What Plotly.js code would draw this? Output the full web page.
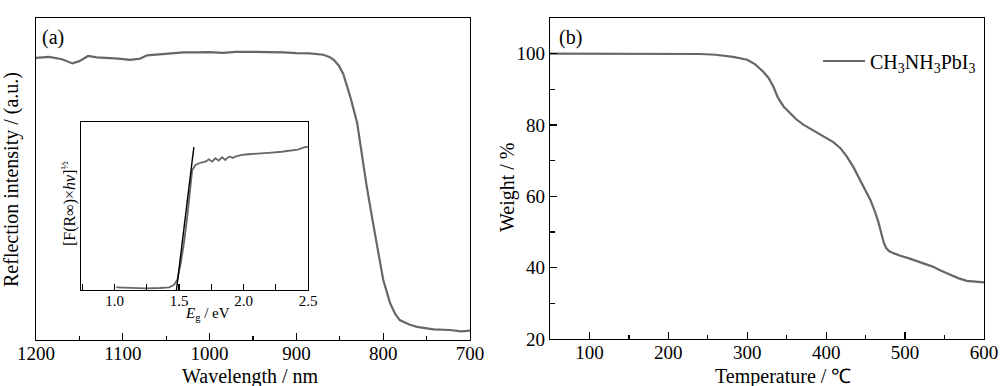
<!DOCTYPE html>
<html>
<head>
<meta charset="utf-8">
<script src="https://cdn.plot.ly/plotly-3.0.1.min.js"></script>
<style>html,body{margin:0;padding:0;background:#fff}#chart{width:1000px;height:386px}</style>
</head>
<body>
<div id="chart"></div>
<script>
// (a) diffuse reflection spectrum
const reflWavelength = [1200,1185,1170,1158,1150,1140,1130,1118,1105,1092,1080,1072,1060,1045,1030,1015,1000,985,970,957,940,925,915,900,885,869,862,857,851,846,838,830,825,819,813,807,800,792,786,781,770,761,742,723,710,700];
const reflIntensity = [87.6,87.9,87.2,85.9,86.6,88.2,87.8,87.7,87.4,87.0,87.4,88.4,88.7,89.0,89.3,89.3,89.4,89.2,89.5,89.5,89.4,89.5,89.3,89.1,89.0,88.6,87.9,87.0,85.2,82.6,75.6,67.4,58.0,47.7,38.3,29.0,18.7,11.4,8.0,6.2,4.8,4.1,3.3,3.1,2.7,2.9];

// inset: Tauc-type plot
const insetEnergy = [1.013,1.10,1.244,1.35,1.423,1.46,1.487,1.513,1.538,1.564,1.59,1.602,1.628,1.66,1.705,1.731,1.756,1.782,1.808,1.833,1.859,1.878,1.897,1.916,1.936,1.96,1.987,2.038,2.10,2.16,2.22,2.295,2.36,2.42,2.475,2.5];
const insetValue = [1.6,1.4,1.0,1.2,1.6,3.0,6.0,15.9,27.8,43.7,61.5,71.4,74.4,75.6,76.4,77.8,76.4,78.4,77.0,79.0,77.4,78.9,79.4,78.6,79.4,80.0,80.4,80.8,81.0,81.6,81.8,82.3,82.8,83.6,85.0,85.2];
const fitEnergy = [1.48, 1.615];
const fitValue = [0, 85];
const insetTicks = [1.0, 1.5, 2.0, 2.5];
const insetTickText = ['1.0','1.5','2.0','2.5'];

// (b) TGA curve
const tgaTemp = [50,100,150,200,240,260,282,300,310,320,327,333,339,346,354,362,371,380,392,400,409,418,426,434,442,450,456,462,466,470,473,476,480,486,493,505,518,527,535,545,557,568,578,590,600];
const tgaWeight = [100,100,100,100,99.9,99.7,99.1,98.3,97.0,95.0,93.2,90.8,87.6,85.2,83.3,81.6,80.1,78.9,77.3,76.3,75.2,73.5,71.2,68.4,65.1,61.6,59.0,55.6,52.9,49.5,47.0,45.5,44.6,44.0,43.4,42.6,41.6,41.0,40.3,39.2,38.0,37.0,36.3,36.0,35.9];
const tgaName = 'CH<sub>3</sub>NH<sub>3</sub>PbI<sub>3</sub>';

const FONT = '"Liberation Serif", "Times New Roman", Times, serif';
const GRAY = '#676767';

const traces = [
  {x: reflWavelength, y: reflIntensity, xaxis:'x', yaxis:'y', mode:'lines', line:{color:GRAY, width:2.2}, showlegend:false, hoverinfo:'skip'},
  {x: insetEnergy, y: insetValue, xaxis:'x3', yaxis:'y3', mode:'lines', line:{color:GRAY, width:1.8}, showlegend:false, hoverinfo:'skip'},
  {x: fitEnergy, y: fitValue, xaxis:'x3', yaxis:'y3', mode:'lines', line:{color:'#000', width:1.4}, showlegend:false, hoverinfo:'skip'},
  {x: tgaTemp, y: tgaWeight, xaxis:'x2', yaxis:'y2', mode:'lines', line:{color:GRAY, width:2.2}, name: tgaName, showlegend:true, hoverinfo:'skip'}
];

const axBase = {showgrid:false, zeroline:false, showline:true, linecolor:'#000', linewidth:1.2, mirror:true, ticks:'inside', tickcolor:'#000', tickwidth:1.2, tickfont:{family:FONT, size:19, color:'#000'}};

const layout = {
  width:1000, height:386,
  margin:{l:0,r:0,t:0,b:0},
  paper_bgcolor:'#fff', plot_bgcolor:'rgba(0,0,0,0)',
  font:{family:FONT, color:'#000'},
  xaxis: Object.assign({}, axBase, {domain:[0.036,0.470], anchor:'y', range:[1200,700], dtick:100, tick0:700, ticklen:7, ticklabelstandoff:-4, minor:{dtick:50, ticks:'inside', ticklen:4.5, tickcolor:'#000', tickwidth:1.2}}),
  yaxis: Object.assign({}, axBase, {domain:[1-340/386, 1-18/386], anchor:'x', range:[0,100], ticks:'', showticklabels:false}),
  xaxis2: Object.assign({}, axBase, {domain:[0.550,0.984], anchor:'y2', range:[50,600], dtick:100, tick0:0, ticklen:7, ticklabelstandoff:-4, minor:{dtick:50, ticks:'inside', ticklen:4.5, tickcolor:'#000', tickwidth:1.2}}),
  yaxis2: Object.assign({}, axBase, {domain:[1-339/386, 1-18/386], anchor:'x2', range:[20,110], dtick:20, tick0:20, ticklen:7, minor:{dtick:10, ticks:'inside', ticklen:4.5, tickcolor:'#000', tickwidth:1.2}}),
  xaxis3: Object.assign({}, axBase, {domain:[0.081,0.308], anchor:'y3', range:[0.74,2.5], tickvals:insetTicks, ticktext:insetTickText, ticklen:6, ticklabelstandoff:-3, tickfont:{family:FONT, size:15, color:'#000'}, minor:{dtick:0.25, tick0:0, ticks:'inside', ticklen:6, tickcolor:'#000', tickwidth:1.2}}),
  yaxis3: Object.assign({}, axBase, {domain:[1-290/386, 1-122/386], anchor:'x3', range:[0,100], ticks:'', showticklabels:false}),
  showlegend:true,
  legend:{x:0.818, xanchor:'left', y:1-61/386, yanchor:'middle', itemwidth:42, bgcolor:'rgba(0,0,0,0)', borderwidth:0, font:{family:FONT, size:20, color:'#000'}},
  annotations:[
    {text:'(a)', xref:'paper', yref:'paper', x:0.040, y:1-37/386, xanchor:'left', yanchor:'middle', showarrow:false, font:{family:FONT, size:20}},
    {text:'(b)', xref:'paper', yref:'paper', x:0.557, y:1-37/386, xanchor:'left', yanchor:'middle', showarrow:false, font:{family:FONT, size:20}},
    {text:'Wavelength / nm', xref:'paper', yref:'paper', x:0.250, y:1-376/386, xanchor:'center', yanchor:'middle', showarrow:false, font:{family:FONT, size:20}},
    {text:'Temperature / ℃', xref:'paper', yref:'paper', x:0.783, y:1-376/386, xanchor:'center', yanchor:'middle', showarrow:false, font:{family:FONT, size:20}},
    {text:'Reflection intensity / (a.u.)', xref:'paper', yref:'paper', x:0.011, y:1-180/386, xanchor:'center', yanchor:'middle', textangle:-90, showarrow:false, font:{family:FONT, size:20}},
    {text:'Weight / %', xref:'paper', yref:'paper', x:0.508, y:1-188/386, xanchor:'center', yanchor:'middle', textangle:-90, showarrow:false, font:{family:FONT, size:20}},
    {text:'[F(R∞)×<i>hν</i>]<sup>½</sup>', xref:'paper', yref:'paper', x:0.068, y:1-204/386, xanchor:'center', yanchor:'middle', textangle:-90, showarrow:false, font:{family:FONT, size:16}},
    {text:'<i>E</i><sub>g</sub> / eV', xref:'paper', yref:'paper', x:0.2075, y:1-314/386, xanchor:'center', yanchor:'middle', showarrow:false, font:{family:FONT, size:15}}
  ]
};

Plotly.newPlot('chart', traces, layout, {staticPlot:true, displayModeBar:false});
</script>
</body>
</html>
